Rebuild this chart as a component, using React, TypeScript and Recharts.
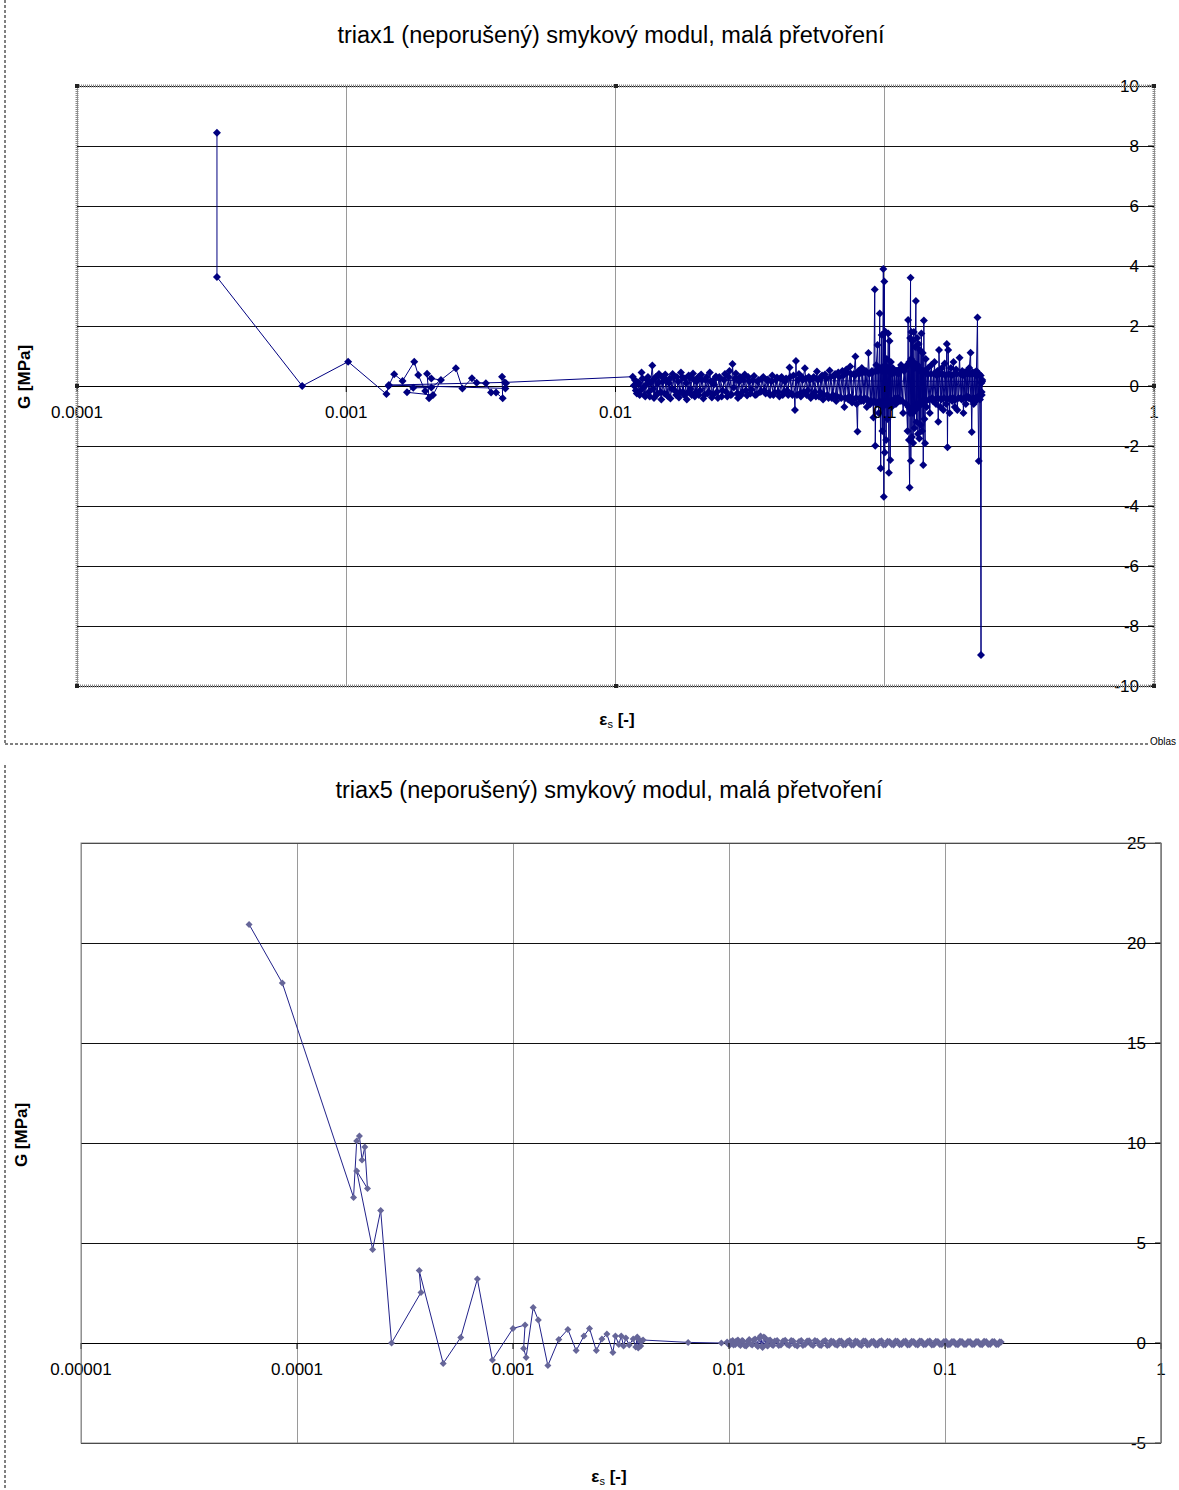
import React from "react";
import { ScatterChart, Scatter, XAxis, YAxis, CartesianGrid, ReferenceLine } from "recharts";

// triax1 – [strain, G] in the order the instrument recorded them
const triax1Start: [number, number][] = [
  [3.31e-4, 8.44], [3.31e-4, 3.63], [6.86e-4, 0], [1.016e-3, 0.81], [1.41e-3, -0.27], [1.436e-3, 0],
  [1.507e-3, 0.39], [1.619e-3, 0.17], [1.789e-3, 0.81], [1.851e-3, 0.37], [1.965e-3, -0.17], [2.03e-3, -0.41],
  [1.996e-3, 0.41], [2.07e-3, 0.25], [2.247e-3, 0.2], [2.1e-3, -0.3], [1.681e-3, -0.21], [1.774e-3, -0.06],
  [2.07e-3, -0.05], [2.553e-3, 0.59], [2.7e-3, -0.08], [2.93e-3, 0.26], [3.05e-3, 0.11], [3.3e-3, 0.09],
  [3.45e-3, -0.22], [3.6e-3, -0.22], [3.81e-3, -0.41], [3.79e-3, 0.31], [3.92e-3, 0.09], [3.9e-3, -0.08],
  [1.44e-3, 0.03], [3.88e-3, 0.12],
];

const triax1Cloud: [number, number][] = [
  [0.01159, 0.31], [0.0117, 0.02], [0.0119, -0.15], [0.0121, 0.12], [0.0123, -0.3], [0.0125, 0.45],
  [0.0127, -0.05], [0.0129, -0.35], [0.0131, 0.2], [0.0133, -0.2], [0.0135, 0.1], [0.0137, 0.68],
  [0.0139, -0.4], [0.0141, 0.3], [0.0143, -0.25], [0.0145, 0.4], [0.0148, -0.45], [0.015, 0.15],
  [0.0153, 0.38], [0.0155, -0.3], [0.0158, 0.1], [0.016, -0.42], [0.0163, 0.4], [0.0166, -0.15],
  [0.0169, 0.3], [0.0172, -0.38], [0.0175, 0.45], [0.0178, -0.2], [0.0181, 0.25], [0.0184, -0.45],
  [0.0187, 0.35], [0.019, -0.1], [0.0194, 0.42], [0.0197, -0.35], [0.02, 0.15],
  [0.0204, -0.3], [0.0208, 0.38], [0.0212, -0.42], [0.0216, 0.2], [0.022, -0.25], [0.0224, 0.45],
  [0.0228, -0.38], [0.0232, 0.05], [0.0236, 0.32], [0.024, -0.4], [0.0245, 0.25], [0.025, -0.15],
  [0.0255, 0.4], [0.026, -0.35], [0.0265, 0.5], [0.027, -0.28], [0.0272, 0.73], [0.0275, -0.05],
  [0.028, 0.42], [0.0285, -0.4], [0.029, 0.3], [0.0296, -0.2], [0.0302, 0.38], [0.0308, -0.32],
  [0.0314, 0.15], [0.032, -0.12], [0.0327, 0.33], [0.0334, -0.28], [0.034, 0.2], [0.0347, -0.18],
  [0.0354, 0.3], [0.0361, -0.25], [0.0368, 0.22], [0.0375, -0.3], [0.0382, 0.35], [0.039, -0.22],
  [0.0398, 0.28],
  [0.0406, -0.35], [0.0414, 0.3], [0.0422, -0.2], [0.043, 0.25], [0.0438, -0.3], [0.0443, 0.62],
  [0.045, -0.25], [0.0458, 0.35], [0.0464, -0.8], [0.0468, 0.83], [0.0472, -0.3], [0.048, 0.4],
  [0.0488, -0.35], [0.0496, 0.2], [0.0505, 0.59], [0.0513, -0.3], [0.0522, 0.3], [0.0531, -0.4],
  [0.054, 0.25], [0.055, -0.2], [0.056, 0.48], [0.057, -0.35], [0.058, 0.3], [0.059, -0.45],
  [0.06, 0.38], [0.0612, -0.3], [0.0624, 0.52], [0.0636, -0.4], [0.0648, 0.35], [0.066, -0.5],
  [0.0672, 0.45], [0.0684, -0.38], [0.0696, 0.5],
  [0.0708, -0.7], [0.072, 0.55], [0.0732, -0.45], [0.0744, 0.65], [0.0756, -0.55], [0.0768, 0.4],
  [0.0778, 0.98], [0.0786, -0.6], [0.0792, -1.52], [0.0798, 0.5], [0.081, -0.4], [0.0822, 0.6],
  [0.0834, -0.5], [0.0846, 0.45], [0.0858, -0.7], [0.087, 1.1], [0.0884, -0.6], [0.0896, 0.5],
  [0.0908, -1.05], [0.0918, 3.22], [0.0922, -1.99], [0.093, 0.7], [0.094, 1.37], [0.095, -0.9],
  [0.0958, 2.42], [0.0966, -2.74], [0.0974, 1.7], [0.098, -1.5], [0.0988, 3.9], [0.0992, -3.69],
  [0.0996, 3.48], [0.1, -2.22], [0.1006, 1.81], [0.1012, -1.8], [0.1018, 0.9], [0.1024, -1.1],
  [0.103, 1.75], [0.1036, -2.89], [0.1042, 1.5], [0.1048, -2.47], [0.1054, 0.8], [0.106, -0.7],
  [0.107, 0.6], [0.108, -0.5], [0.109, 0.45], [0.11, -0.6], [0.111, 0.5], [0.112, -0.4],
  [0.113, 0.55], [0.114, -0.5],
  [0.115, 0.7], [0.117, -0.9], [0.119, 0.6], [0.1215, -1.5], [0.1221, 2.2], [0.123, -1.8],
  [0.1237, -3.38], [0.1243, 1.6], [0.1247, 3.61], [0.125, -2.49], [0.1256, 1.8], [0.1262, -1.7],
  [0.1268, 1.5], [0.1275, -1.9], [0.1282, 1.8], [0.129, -1.4], [0.1298, 1.3], [0.1305, 2.83],
  [0.1312, -1.2], [0.132, 1.6], [0.1328, -1.6], [0.1336, 1.4], [0.1344, -1.75], [0.1352, 1.2],
  [0.136, -1.3], [0.1368, 1.75], [0.1376, -1.5], [0.1384, 1.1], [0.139, -2.63], [0.1397, 2.18],
  [0.1404, -1.1], [0.1412, -1.91], [0.142, 0.9], [0.143, -0.7], [0.145, 0.6], [0.147, -0.9],
  [0.149, 0.7], [0.151, -0.5],
  [0.153, 0.8], [0.155, -0.6], [0.157, 0.5], [0.158, -1.19], [0.159, 1.2], [0.161, -0.7],
  [0.163, 0.6], [0.165, -0.8], [0.167, 0.75], [0.169, -0.6], [0.17, 1.4], [0.171, -2.04],
  [0.172, 1.2], [0.174, -0.9], [0.176, 0.6], [0.178, -0.5], [0.18, 0.8], [0.182, -0.7],
  [0.184, 0.55], [0.186, -0.8], [0.1896, 0.94], [0.192, -0.4], [0.194, 0.5], [0.196, -0.9],
  [0.198, 0.45], [0.2, -0.6], [0.202, 0.5], [0.204, -0.35], [0.206, 0.6], [0.2083, 1.11],
  [0.2104, -1.53], [0.212, 0.45], [0.214, -0.6], [0.216, 0.4], [0.218, -0.5], [0.219, 0.5],
  [0.221, 2.28], [0.222, -0.4], [0.2234, -2.5], [0.225, 0.35], [0.2265, -0.3], [0.2278, -8.97],
  [0.2285, 0.1], [0.229, -0.2], [0.2298, 0.15],
];

// second loading pass, smaller scatter inside the band
const triax1Pass2: [number, number][] = [
  [0.0118, 0.2], [0.012, -0.25], [0.0122, 0.1], [0.0124, -0.15], [0.0126, 0.25], [0.0128, -0.3],
  [0.013, 0.05], [0.0132, 0.3], [0.0134, -0.35], [0.0136, 0.15], [0.0138, -0.1], [0.014, 0.25],
  [0.0142, -0.3], [0.0144, 0.1], [0.0147, -0.2], [0.0149, 0.3], [0.0152, -0.25], [0.0154, 0.2],
  [0.0157, -0.35], [0.0159, 0.25], [0.0162, -0.1], [0.0165, 0.3], [0.0168, -0.3], [0.0171, 0.15],
  [0.0174, -0.2], [0.0177, 0.3], [0.018, -0.3], [0.0183, 0.1], [0.0186, -0.2], [0.0189, 0.3],
  [0.0192, -0.3], [0.0196, 0.2], [0.0199, -0.2], [0.0203, 0.3], [0.0206, -0.15], [0.021, 0.2],
  [0.0214, -0.3], [0.0218, 0.3], [0.0222, -0.2], [0.0226, 0.15], [0.023, -0.3], [0.0234, 0.25],
  [0.0238, -0.2], [0.0243, 0.3], [0.0248, -0.35], [0.0253, 0.2], [0.0258, -0.2], [0.0263, 0.3],
  [0.0268, -0.3], [0.0278, 0.25], [0.0283, -0.25], [0.0288, 0.15], [0.0293, -0.3], [0.0299, 0.2],
  [0.0305, -0.15], [0.0311, 0.3], [0.0317, -0.25], [0.0324, 0.2], [0.033, -0.3], [0.0337, 0.15],
  [0.0344, -0.2], [0.035, 0.25], [0.0357, -0.15], [0.0364, 0.2], [0.0372, -0.25], [0.0379, 0.15],
  [0.0386, -0.3], [0.0394, 0.2], [0.0402, -0.2], [0.041, 0.25], [0.0418, -0.3], [0.0426, 0.15],
  [0.0434, -0.15], [0.0446, 0.3], [0.0454, -0.3], [0.0476, 0.2], [0.0484, -0.25], [0.0492, 0.3],
  [0.05, -0.2], [0.0509, 0.25], [0.0518, -0.15], [0.0527, 0.2], [0.0536, -0.3], [0.0545, 0.3],
  [0.0555, -0.35], [0.0565, 0.2], [0.0575, -0.2], [0.0585, 0.35], [0.0595, -0.3], [0.0606, 0.25],
  [0.0618, -0.4], [0.063, 0.3], [0.0642, -0.3], [0.0654, 0.4], [0.0666, -0.35], [0.0678, 0.3],
  [0.069, -0.4], [0.0702, 0.35], [0.0714, -0.4], [0.0726, 0.45], [0.0738, -0.35], [0.075, 0.4],
  [0.0762, -0.45], [0.0774, 0.35], [0.0782, -0.4], [0.0804, 0.4], [0.0816, -0.5], [0.0828, 0.45],
  [0.084, -0.4], [0.0852, 0.5], [0.0864, -0.45], [0.0876, 0.4], [0.089, -0.5], [0.0902, 0.45],
  [0.0913, -0.5], [0.0926, 0.5], [0.0935, -0.6], [0.0945, 0.5], [0.0954, -0.5], [0.0962, 0.6],
  [0.097, -0.6], [0.0977, 0.5], [0.0984, -0.7], [0.099, 0.6], [0.0998, -0.5], [0.1003, 0.7],
  [0.1009, -0.6], [0.1015, 0.5], [0.1021, -0.6], [0.1027, 0.6], [0.1033, -0.5], [0.1039, 0.6],
  [0.1045, -0.6], [0.1051, 0.5], [0.1057, -0.5], [0.1065, 0.4], [0.1075, -0.5], [0.1085, 0.5],
  [0.1095, -0.4], [0.1105, 0.5], [0.1115, -0.5], [0.1125, 0.4], [0.1135, -0.45], [0.1145, 0.5],
  [0.116, -0.5], [0.118, 0.5], [0.12, -0.6], [0.121, 0.7], [0.1225, -0.7], [0.1234, 0.8],
  [0.124, -0.9], [0.1253, 0.9], [0.1259, -0.8], [0.1265, 0.7], [0.1272, -0.9], [0.1278, 0.8],
  [0.1286, -0.7], [0.1294, 0.6], [0.1301, -0.8], [0.1308, 0.7], [0.1316, -0.6], [0.1324, 0.7],
  [0.1332, -0.7], [0.134, 0.6], [0.1348, -0.6], [0.1356, 0.5], [0.1364, -0.6], [0.1372, 0.5],
  [0.138, -0.5], [0.1387, 0.5], [0.1394, -0.6], [0.1401, 0.5], [0.1408, -0.5], [0.1416, 0.45],
  [0.1425, -0.5], [0.144, 0.4], [0.146, -0.45], [0.148, 0.4], [0.15, -0.4], [0.152, 0.4],
  [0.154, -0.45], [0.156, 0.35], [0.1575, -0.4], [0.16, 0.4], [0.162, -0.45], [0.164, 0.4],
  [0.166, -0.4], [0.168, 0.35], [0.1705, -0.45], [0.173, 0.4], [0.175, -0.4], [0.177, 0.35],
  [0.179, -0.4], [0.181, 0.4], [0.183, -0.45], [0.185, 0.4], [0.188, -0.4], [0.191, 0.4],
  [0.193, -0.45], [0.195, 0.35], [0.197, -0.4], [0.199, 0.4], [0.201, -0.4], [0.203, 0.4],
  [0.205, -0.4], [0.207, 0.4], [0.209, -0.45], [0.211, 0.4], [0.213, -0.4], [0.215, 0.45],
  [0.217, -0.4], [0.2185, 0.35], [0.22, -0.4], [0.2215, 0.4], [0.2225, -0.35], [0.224, 0.4],
  [0.2258, -0.45], [0.2272, 0.35], [0.2292, -0.3], [0.2302, 0.2],
];

// triax5 – [strain, G]
const triax5Start: [number, number][] = [
  [6.0e-5, 20.93], [8.55e-5, 18.0], [1.827e-4, 7.28], [1.89e-4, 10.1], [1.946e-4, 10.35], [2.0e-4, 9.15],
  [2.06e-4, 9.8], [2.12e-4, 7.72], [1.89e-4, 8.6], [2.24e-4, 4.68], [2.44e-4, 6.63], [2.74e-4, 0],
  [3.75e-4, 2.53], [3.68e-4, 3.62], [4.75e-4, -1.02], [5.73e-4, 0.28], [6.84e-4, 3.2], [8.03e-4, -0.85],
  [1.0e-3, 0.73], [1.137e-3, 0.9], [1.12e-3, -0.27], [1.15e-3, -0.72], [1.24e-3, 1.78], [1.31e-3, 1.15],
  [1.45e-3, -1.13], [1.63e-3, 0.18], [1.795e-3, 0.68], [1.96e-3, -0.38], [2.13e-3, 0.35], [2.26e-3, 0.73],
  [2.43e-3, -0.38], [2.58e-3, 0.2], [2.72e-3, 0.45], [2.9e-3, -0.48], [2.98e-3, 0.35], [3.09e-3, -0.07],
  [3.17e-3, 0.35], [3.25e-3, -0.15], [3.33e-3, 0.25], [3.45e-3, -0.1], [3.6e-3, 0.2], [3.7e-3, -0.2],
  [3.76e-3, 0.3], [3.8e-3, -0.25], [3.85e-3, 0.15], [3.9e-3, -0.15], [3.95e-3, 0.1], [4.0e-3, 0.15],
  [6.47e-3, 0.03], [9.22e-3, 0],
];

const triax5Cloud: [number, number][] = [
  [0.0098, 0.05], [0.0101, -0.1], [0.0104, 0.12], [0.0107, -0.08], [0.011, 0.15], [0.0113, -0.12],
  [0.0116, 0.1], [0.012, -0.15], [0.0124, 0.18], [0.0128, -0.1], [0.0132, 0.2], [0.0136, -0.18],
  [0.014, 0.35], [0.0143, -0.22], [0.0147, 0.25], [0.0151, -0.15], [0.0155, 0.15], [0.016, -0.12],
  [0.0167, 0.12], [0.0174, -0.1], [0.0182, 0.14], [0.019, -0.12], [0.0198, 0.1], [0.0207, -0.15],
  [0.0216, 0.13], [0.0225, -0.08], [0.0235, 0.11], [0.0245, -0.12], [0.0256, 0.09], [0.0267, -0.13],
  [0.0279, 0.12], [0.0291, -0.1], [0.0304, 0.08], [0.0317, -0.11], [0.0331, 0.1], [0.0346, -0.09],
  [0.0361, 0.12], [0.0377, -0.1], [0.0393, 0.08], [0.041, -0.12], [0.0428, 0.1], [0.0447, -0.08],
  [0.0467, 0.09], [0.0487, -0.1], [0.0508, 0.11], [0.053, -0.09], [0.0554, 0.08], [0.0578, -0.1],
  [0.0603, 0.09], [0.063, -0.08], [0.0657, 0.1], [0.0686, -0.09], [0.0716, 0.08], [0.0748, -0.1],
  [0.078, 0.09], [0.0815, -0.08], [0.085, 0.1], [0.0888, -0.09], [0.0927, 0.08], [0.0967, -0.07],
  [0.101, 0.09], [0.1054, -0.08], [0.11, 0.07], [0.1148, -0.09], [0.1199, 0.08], [0.1251, -0.07],
  [0.1306, 0.08], [0.1364, -0.08], [0.1423, 0.07], [0.1486, -0.09], [0.1551, 0.08], [0.1619, -0.07],
  [0.169, 0.08], [0.1764, -0.08], [0.182, 0.05],
];

const triax5Pass2: [number, number][] = [
  [0.0099, -0.05], [0.0102, 0.08], [0.0105, -0.1], [0.0108, 0.1], [0.0111, -0.05], [0.0115, 0.12],
  [0.0118, -0.12], [0.0122, 0.08], [0.0126, -0.05], [0.013, 0.15], [0.0134, -0.1], [0.0138, 0.25],
  [0.0142, -0.15], [0.0145, 0.3], [0.0149, -0.1], [0.0153, 0.12], [0.0158, -0.08], [0.0163, 0.1],
  [0.017, -0.12], [0.0178, 0.1], [0.0186, -0.08], [0.0194, 0.12], [0.0202, -0.1], [0.0211, 0.08],
  [0.022, -0.12], [0.023, 0.1], [0.024, -0.08], [0.025, 0.12], [0.0262, -0.1], [0.0273, 0.08],
  [0.0285, -0.12], [0.0297, 0.1], [0.031, -0.08], [0.0324, 0.1], [0.0338, -0.1], [0.0353, 0.08],
  [0.0369, -0.1], [0.0385, 0.1], [0.0401, -0.08], [0.0419, 0.1], [0.0437, -0.1], [0.0457, 0.08],
  [0.0477, -0.1], [0.0497, 0.08], [0.0519, -0.1], [0.0542, 0.09], [0.0566, -0.08], [0.059, 0.1],
  [0.0616, -0.09], [0.0643, 0.08], [0.0671, -0.1], [0.0701, 0.09], [0.0732, -0.08], [0.0764, 0.1],
  [0.0797, -0.09], [0.0832, 0.08], [0.0869, -0.1], [0.0907, 0.09], [0.0947, -0.08], [0.0988, 0.07],
  [0.1032, -0.09], [0.1077, 0.08], [0.1124, -0.07], [0.1173, 0.09], [0.1225, -0.08], [0.1278, 0.07],
  [0.1335, -0.08], [0.1393, 0.08], [0.1454, -0.07], [0.1518, 0.09], [0.1585, -0.08], [0.1654, 0.07],
  [0.1727, -0.08], [0.1792, 0.06],
];

const xTicks1 = [0.0001, 0.001, 0.01, 0.1, 1];
const xTickLabels1 = ["0.0001", "0.001", "0.01", "0.1", "1"];
const yTicks1 = [-10, -8, -6, -4, -2, 0, 2, 4, 6, 8, 10];

const xTicks5 = [0.00001, 0.0001, 0.001, 0.01, 0.1, 1];
const xTickLabels5 = ["0.00001", "0.0001", "0.001", "0.01", "0.1", "1"];
const yTicks5 = [-5, 0, 5, 10, 15, 20, 25];

const FONT = "'Liberation Sans', Arial, sans-serif";
const W = 1179;

const toRows = (pts: [number, number][]) => pts.map(([x, y]) => ({ x, y }));

function diamond(r: number, fill: string) {
  return (p: any) => {
    const { cx, cy } = p;
    if (cx == null || cy == null) return <g />;
    return <path d={`M${cx},${cy - r}L${cx + r},${cy}L${cx},${cy + r}L${cx - r},${cy}Z`} fill={fill} />;
  };
}

// Excel draws the category labels where the value axis crosses zero
function xTickAtZero(zeroY: number, ticks: number[], labels: string[]) {
  return (p: any) => {
    const i = ticks.findIndex((t) => Math.abs(t - p.payload.value) / t < 1e-6);
    return (
      <g>
        <line x1={p.x} x2={p.x} y1={zeroY} y2={zeroY + 6} stroke="#000" />
        <text x={p.x} y={zeroY + 32} textAnchor="middle" fontSize={17} fontFamily={FONT} fill="#000">
          {i >= 0 ? labels[i] : String(p.payload.value)}
        </text>
      </g>
    );
  };
}

type PanelProps = {
  top: number;
  height: number;
  margin: { top: number; right: number; bottom: number; left: number };
  data: { x: number; y: number }[];
  xDomain: [number, number];
  xTicks: number[];
  xLabels: string[];
  yDomain: [number, number];
  yTicks: number[];
  lineColor: string;
  dotColor: string;
  dotR: number;
  yAxisLine: boolean;
};

function Panel(props: PanelProps) {
  const { margin, yDomain } = props;
  const plotH = props.height - margin.top - margin.bottom - 1;
  const zeroY = margin.top + (plotH * yDomain[1]) / (yDomain[1] - yDomain[0]);
  return (
    <div style={{ position: "absolute", left: 0, top: props.top }}>
      <ScatterChart width={W} height={props.height} margin={margin}>
        <CartesianGrid horizontal={false} vertical={true} stroke="#9a9a9a" shapeRendering="crispEdges" />
        <CartesianGrid horizontal={true} vertical={false} stroke="#111" shapeRendering="crispEdges" />
        <XAxis
          type="number"
          dataKey="x"
          scale="log"
          domain={props.xDomain}
          ticks={props.xTicks}
          allowDataOverflow
          height={1}
          axisLine={false}
          tickLine={false}
          tick={xTickAtZero(zeroY, props.xTicks, props.xLabels)}
        />
        <YAxis
          type="number"
          dataKey="y"
          orientation="right"
          mirror
          domain={yDomain}
          ticks={props.yTicks}
          allowDataOverflow
          axisLine={props.yAxisLine ? { stroke: "#555" } : false}
          tickLine={{ stroke: "#000" }}
          tickSize={6}
          tickMargin={9}
          tick={{ fontSize: 17, fontFamily: FONT, fill: "#000" }}
        />
        <ReferenceLine y={0} stroke="#000" shapeRendering="crispEdges" />
        <Scatter
          data={props.data}
          line={{ stroke: props.lineColor, strokeWidth: 1 }}
          lineType="joint"
          shape={diamond(props.dotR, props.dotColor)}
          isAnimationActive={false}
        />
      </ScatterChart>
    </div>
  );
}

const titleStyle: React.CSSProperties = {
  position: "absolute",
  transform: "translateX(-50%)",
  whiteSpace: "nowrap",
  fontFamily: FONT,
  fontSize: 23.5,
  lineHeight: "28px",
  color: "#000",
};

const axisTitle: React.CSSProperties = {
  position: "absolute",
  whiteSpace: "nowrap",
  fontFamily: FONT,
  fontSize: 17,
  fontWeight: "bold",
  lineHeight: "20px",
  color: "#000",
};

function EpsLabel({ cx, cy }: { cx: number; cy: number }) {
  return (
    <div style={{ ...axisTitle, left: cx, top: cy - 10, transform: "translateX(-50%)" }}>
      ε<sub style={{ fontSize: 11, fontWeight: "normal", verticalAlign: "-3px" }}>s</sub> [-]
    </div>
  );
}

function GLabel({ cx, cy }: { cx: number; cy: number }) {
  return (
    <div style={{ ...axisTitle, left: cx, top: cy, transform: "translate(-50%, -50%) rotate(-90deg)" }}>G [MPa]</div>
  );
}

export default function App() {
  const handles = [
    [77, 86], [616, 86], [1154, 86], [77, 386], [1154, 386], [77, 686], [616, 686], [1154, 686],
  ];
  return (
    <div style={{ position: "absolute", left: 0, top: 0, width: W, height: 1490, background: "#fff", overflow: "hidden" }}>
      <Panel
        top={0}
        height={745}
        margin={{ top: 86, right: 25, bottom: 58, left: 77 }}
        data={toRows([...triax1Start, ...triax1Cloud, ...triax1Pass2])}
        xDomain={[0.0001, 1]}
        xTicks={xTicks1}
        xLabels={xTickLabels1}
        yDomain={[-10, 10]}
        yTicks={yTicks1}
        lineColor="#000080"
        dotColor="#000080"
        dotR={4}
        yAxisLine={false}
      />
      <Panel
        top={750}
        height={740}
        margin={{ top: 93, right: 18, bottom: 46, left: 81 }}
        data={toRows([...triax5Start, ...triax5Cloud, ...triax5Pass2])}
        xDomain={[0.00001, 1]}
        xTicks={xTicks5}
        xLabels={xTickLabels5}
        yDomain={[-5, 25]}
        yTicks={yTicks5}
        lineColor="#22228a"
        dotColor="#666699"
        dotR={3.5}
        yAxisLine={true}
      />

      <svg width={W} height={1490} style={{ position: "absolute", left: 0, top: 0, pointerEvents: "none" }}>
        <line x1={5} y1={0} x2={5} y2={744} stroke="#000" strokeDasharray="3 2" />
        <line x1={5} y1={744} x2={1148} y2={744} stroke="#000" strokeDasharray="3 2" />
        <rect x={77} y={86} width={1077} height={600} fill="none" stroke="#8a8a8a" strokeWidth={3} strokeDasharray="1 1" />
        {handles.map(([x, y], i) => (
          <rect key={i} x={x - 2} y={y - 2} width={4} height={4} fill="#222" />
        ))}
        <line x1={5} y1={765} x2={5} y2={1490} stroke="#000" strokeDasharray="3 2" />
        <rect x={81} y={843} width={1080} height={600} fill="none" stroke="#888" />
        <text x={1150} y={745} fontSize={10} fontFamily={FONT} fill="#000">Oblas</text>
      </svg>

      <div style={{ ...titleStyle, left: 611, top: 21 }}>triax1 (neporušený) smykový modul, malá přetvoření</div>
      <div style={{ ...titleStyle, left: 609, top: 776 }}>triax5 (neporušený) smykový modul, malá přetvoření</div>
      <GLabel cx={25} cy={377} />
      <GLabel cx={22} cy={1135} />
      <EpsLabel cx={617} cy={720} />
      <EpsLabel cx={609} cy={1477} />
    </div>
  );
}
